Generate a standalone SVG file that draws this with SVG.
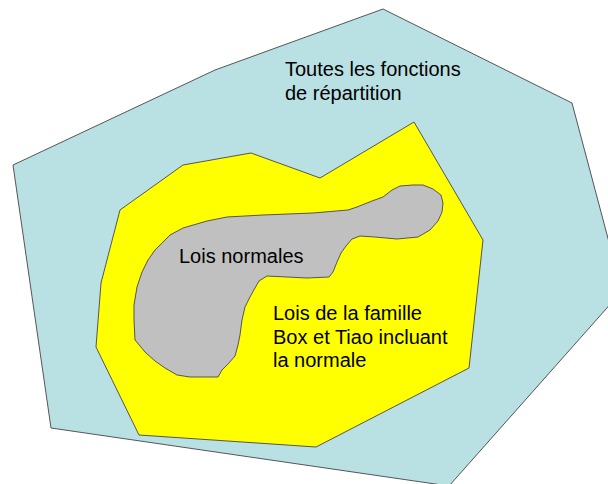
<svg xmlns="http://www.w3.org/2000/svg" width="608" height="484" viewBox="0 0 608 484">
<style>
.shape{stroke:#555;stroke-width:1;stroke-linejoin:round}
.t{font-family:"Liberation Sans",Arial,sans-serif;font-size:20px;fill:#000}
</style>
<rect width="608" height="484" fill="#fff"/>
<g id="all">
<polygon class="shape" fill="#b9e0e3" points="13,165 215,70 383,9 572,103 622,291 449,486 51,428"/>
<text class="t" x="285" y="76">Toutes les fonctions</text>
<text class="t" x="285" y="99.5">de répartition</text>
</g>
<g id="boxtiao">
<polygon class="shape" fill="#ffff00" points="120,210 183,165 251,153 320,178 414,122 483,240 469,368 316,447 139,435 96,347 101,283"/>
<text class="t" x="273" y="320">Lois de la famille</text>
<text class="t" x="273" y="343.5">Box et Tiao incluant</text>
<text class="t" x="273" y="367">la normale</text>
</g>
<g id="normales">
<polygon class="shape" fill="#c0c0c0" points="163,242 170,235 183,228 207,221 227,217 263,215 313,213 348,210 357,207 372,201 383,197 392,190 400,186 413,185 423,185 433,189 441,195 443,203 442,212 438,221 430,230 418,237 397,239 375,237 360,236 352,239 346,246 341,253 337,262 333,272 329,277 307,278 287,277 267,276 259,281 255,288 250,297 245,307 242,320 240,335 238,345 235,356 228,364 222,370 218,377 190,377 177,375 165,368 155,361 145,352 135,340 134,320 134,305 137,287 142,272 148,260 155,250"/>
<text class="t" x="179" y="263">Lois normales</text>
</g>
</svg>
